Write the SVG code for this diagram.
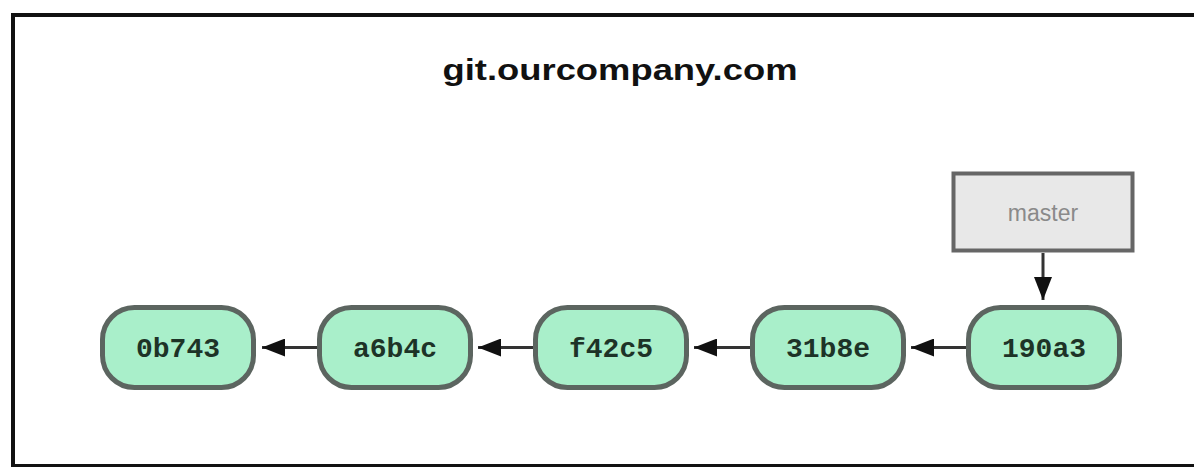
<svg xmlns="http://www.w3.org/2000/svg" width="1194" height="467" viewBox="0 0 1194 467">
<style>
.frame{fill:#fff;stroke:#111;stroke-width:4}
.title{font-family:"Liberation Sans",Arial,sans-serif;font-weight:bold;font-size:30px;fill:#111;text-anchor:middle}
.commit rect{fill:#a9efca;stroke:#5c6560;stroke-width:5}
.commit text{font-family:"Liberation Mono","Courier New",monospace;font-weight:bold;font-size:28px;fill:#1d3327;text-anchor:middle}
.branch rect{fill:#e8e8e8;stroke:#666;stroke-width:4}
.branch text{font-family:"Liberation Sans",Arial,sans-serif;font-size:23px;fill:#8a8a8a;text-anchor:middle}
.edge{stroke:#333;stroke-width:3;fill:none}
</style>
<defs>
<marker id="arr" markerUnits="userSpaceOnUse" markerWidth="24" markerHeight="18" refX="23" refY="9" orient="auto">
<path d="M0,0 L23,9 L0,18 z" fill="#111"/>
</marker>
</defs>
<rect class="frame" x="13" y="15" width="1200" height="451"/>
<text class="title" x="620" y="80" textLength="355" lengthAdjust="spacingAndGlyphs">git.ourcompany.com</text>
<g id="connectors">
<line class="edge" x1="318" y1="347.5" x2="262" y2="347.5" marker-end="url(#arr)"/>
<line class="edge" x1="534" y1="347.5" x2="478" y2="347.5" marker-end="url(#arr)"/>
<line class="edge" x1="750" y1="347.5" x2="694" y2="347.5" marker-end="url(#arr)"/>
<line class="edge" x1="967" y1="347.5" x2="911" y2="347.5" marker-end="url(#arr)"/>
<line class="edge" x1="1043" y1="253" x2="1043" y2="300" marker-end="url(#arr)"/>
</g>
<g id="c0b743" class="commit"><rect x="102.5" y="307.5" width="151" height="80" rx="32"/><text x="178" y="357">0b743</text></g>
<g id="ca6b4c" class="commit"><rect x="319.5" y="307.5" width="151" height="80" rx="32"/><text x="395" y="357">a6b4c</text></g>
<g id="cf42c5" class="commit"><rect x="535.5" y="307.5" width="151" height="80" rx="32"/><text x="611" y="357">f42c5</text></g>
<g id="c31b8e" class="commit"><rect x="752.5" y="307.5" width="151" height="80" rx="32"/><text x="828" y="357">31b8e</text></g>
<g id="c190a3" class="commit"><rect x="968.5" y="307.5" width="151" height="80" rx="32"/><text x="1044" y="357">190a3</text></g>
<g id="master" class="branch"><rect x="953.5" y="173.5" width="179" height="77"/><text x="1043" y="221">master</text></g>
</svg>
